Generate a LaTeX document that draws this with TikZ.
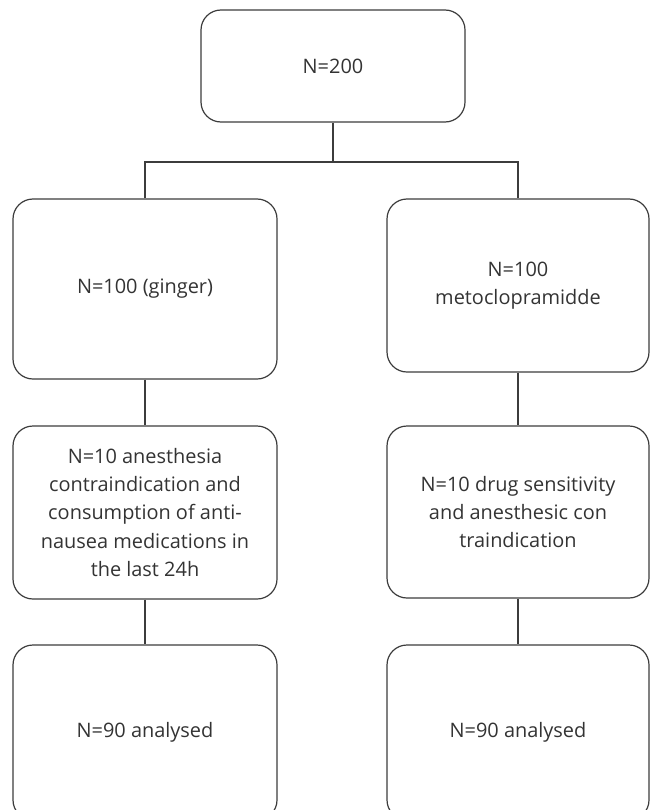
\documentclass[tikz,border=0pt]{standalone}
\usepackage{fontspec}
\setmainfont{Open Sans}
\begin{document}
\begin{tikzpicture}[x=1bp,y=-1bp,
  box/.style={draw=linec, line width=1.2bp, rounded corners=20bp, align=center, text=textc,
    font=\fontsize{20}{28.5}\selectfont, inner sep=0pt},
  conn/.style={draw=linec, line width=1.2bp}]
\definecolor{linec}{HTML}{3C3C3C}
\definecolor{textc}{HTML}{333333}
\useasboundingbox (0,0) rectangle (650,810);
\clip (0,0) rectangle (650,810);
\node[box, minimum width=264bp, minimum height=112bp] (top) at (333,66) {N=200};
\node[box, minimum width=264bp, minimum height=180bp] (l2) at (145,289) {N=100 (ginger)};
\node[box, minimum width=262bp, minimum height=173bp] (r2) at (518,285.5) {N=100\\metoclopramidde};
\node[box, minimum width=264bp, minimum height=173bp] (l3) at (145,512.5) {N=10 anesthesia\\contraindication and\\consumption of anti-\\nausea medications in\\the last 24h};
\node[box, minimum width=262bp, minimum height=172bp] (r3) at (518,512) {N=10 drug sensitivity\\and anesthesic con\\traindication};
\node[box, minimum width=264bp, minimum height=175bp] (l4) at (145,732.5) {N=90 analysed};
\node[box, minimum width=262bp, minimum height=175bp] (r4) at (518,732.5) {N=90 analysed};
\coordinate (j) at (333,162);
\draw[conn] (top.south) -- (j);
\draw[conn] (l2.north) -- (l2.north |- j) -- (r2.north |- j) -- (r2.north);
\draw[conn] (l2.south) -- (l3.north);
\draw[conn] (r2.south) -- (r3.north);
\draw[conn] (l3.south) -- (l4.north);
\draw[conn] (r3.south) -- (r4.north);
\end{tikzpicture}
\end{document}
